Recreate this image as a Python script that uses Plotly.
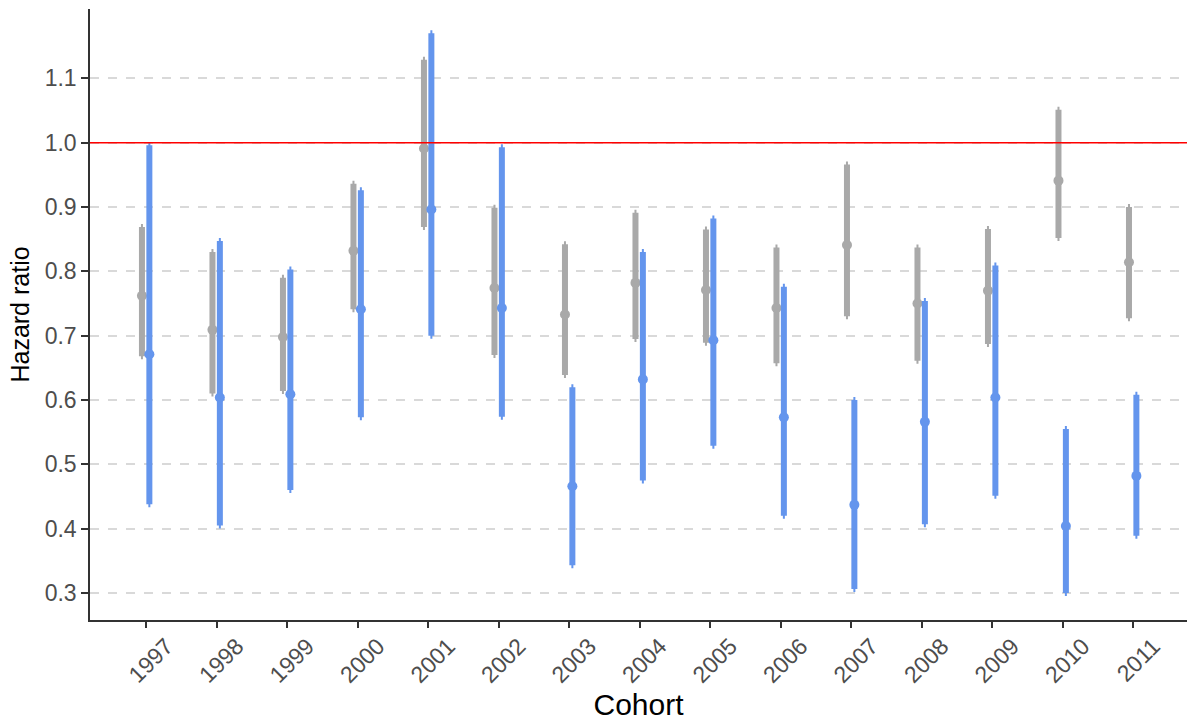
import plotly.graph_objects as go

cohorts = ["1997", "1998", "1999", "2000", "2001", "2002", "2003", "2004",
           "2005", "2006", "2007", "2008", "2009", "2010", "2011"]

gray_hr = [0.762, 0.709, 0.698, 0.832, 0.991, 0.774, 0.733, 0.782, 0.771, 0.743, 0.841, 0.750, 0.770, 0.941, 0.814]
gray_lo = [0.668, 0.610, 0.614, 0.741, 0.869, 0.670, 0.639, 0.695, 0.689, 0.657, 0.730, 0.661, 0.687, 0.852, 0.727]
gray_hi = [0.869, 0.830, 0.790, 0.936, 1.129, 0.899, 0.842, 0.891, 0.865, 0.837, 0.966, 0.837, 0.866, 1.051, 0.900]

blue_hr = [0.671, 0.604, 0.609, 0.741, 0.896, 0.743, 0.466, 0.632, 0.693, 0.573, 0.437, 0.566, 0.604, 0.404, 0.482]
blue_lo = [0.438, 0.405, 0.460, 0.573, 0.700, 0.574, 0.343, 0.475, 0.529, 0.420, 0.306, 0.407, 0.451, 0.300, 0.389]
blue_hi = [0.996, 0.847, 0.803, 0.926, 1.170, 0.993, 0.620, 0.830, 0.882, 0.776, 0.600, 0.754, 0.809, 0.555, 0.608]

y_ticks = [0.3, 0.4, 0.5, 0.6, 0.7, 0.8, 0.9, 1.0, 1.1]
y_ticklabels = ["0.3", "0.4", "0.5", "0.6", "0.7", "0.8", "0.9", "1.0", "1.1"]

GRAY = "#a9a9a9"
BLUE = "#6495ed"

idx = list(range(len(cohorts)))

fig = go.Figure()

def add_series(hr, lo, hi, color, offset):
    fig.add_trace(go.Scatter(
        x=[i + offset for i in idx], y=hr, mode="markers",
        marker=dict(color=color, size=10, symbol="circle"),
        error_y=dict(type="data", symmetric=False,
                     array=[h - m for h, m in zip(hi, hr)],
                     arrayminus=[m - l for m, l in zip(hr, lo)],
                     color=color, thickness=6, width=1),
        showlegend=False, hoverinfo="skip"))

add_series(gray_hr, gray_lo, gray_hi, GRAY, -0.063)
add_series(blue_hr, blue_lo, blue_hi, BLUE, 0.042)

fig.add_hline(y=1.0, line=dict(color="#ff0000", width=1.5), layer="above")

fig.update_layout(
    width=1187, height=724,
    margin=dict(l=90, r=0, t=9, b=104),
    plot_bgcolor="white", paper_bgcolor="white",
    font=dict(family="Liberation Sans, Arial, sans-serif"),
    xaxis=dict(
        range=[-0.8, 14.76], tickvals=idx, ticktext=cohorts, tickangle=-45,
        showgrid=False, zeroline=False,
        showline=True, linecolor="#333333", linewidth=1.5,
        ticks="outside", ticklen=6, tickcolor="#333333", tickwidth=1.5,
        tickfont=dict(size=23, color="#4d4d4d"),
        ticklabelshift=20, ticklabelstandoff=-4,
        title=dict(text="Cohort", font=dict(size=30, color="black"), standoff=7),
    ),
    yaxis=dict(
        range=[0.258, 1.2078], tickvals=y_ticks, ticktext=y_ticklabels,
        showgrid=True, gridcolor="#d9d9d9", griddash="dash", gridwidth=1.5,
        zeroline=False,
        showline=True, linecolor="#333333", linewidth=1.5,
        ticks="outside", ticklen=7, tickcolor="#333333", tickwidth=1.5,
        tickfont=dict(size=23, color="#4d4d4d"),
        title=dict(text="Hazard ratio", font=dict(size=25, color="black"), standoff=8),
    ),
)

fig.write_html("out.html", config={"displayModeBar": False},
               post_script="document.body.style.margin='0';")
